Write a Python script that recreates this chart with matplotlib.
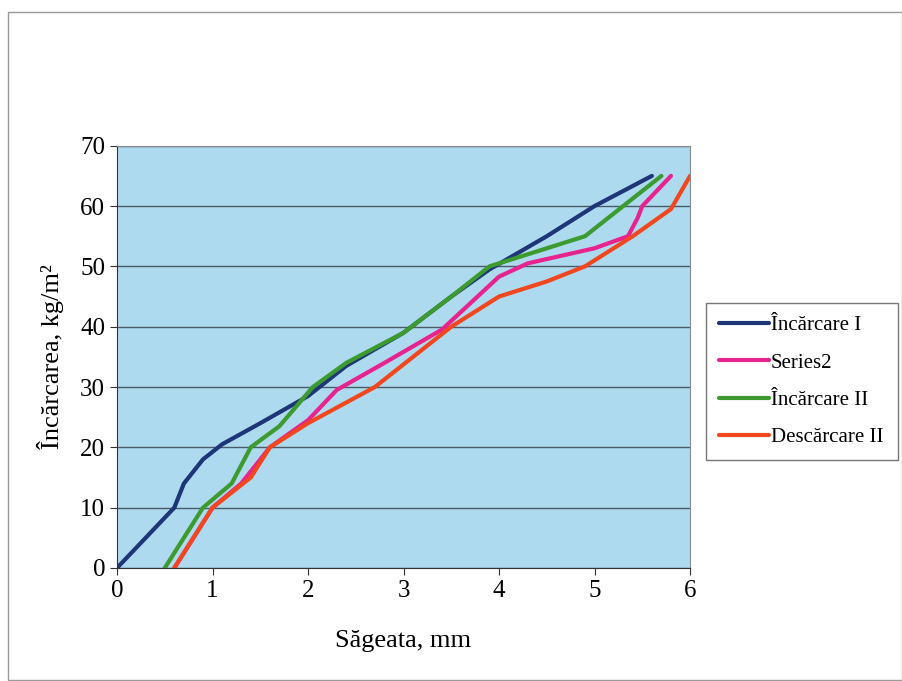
#!/usr/bin/env python3
import matplotlib

matplotlib.use("Agg")
import matplotlib.pyplot as plt
from matplotlib.patches import Rectangle

# Încărcare I
x_inc1 = [0.0, 0.6, 0.7, 0.9, 1.1, 1.5, 2.0, 2.4, 3.0, 3.5, 3.9, 4.5, 5.0, 5.6]
y_inc1 = [0, 10, 14, 18, 20.5, 24, 28.5, 33.5, 39, 45, 49.5, 55, 60, 65]

# Series2
x_ser2 = [0.6, 0.8, 1.0, 1.3, 1.6, 2.0, 2.3, 2.8, 3.4, 4.0, 4.3, 5.0, 5.35, 5.45, 5.5, 5.8]
y_ser2 = [0, 5, 10, 14, 20, 24.5, 29.5, 34, 39.5, 48.3, 50.5, 53, 55, 58, 60, 65]

# Încărcare II
x_inc2 = [0.5, 0.7, 0.9, 1.2, 1.4, 1.7, 2.05, 2.4, 3.0, 3.5, 3.9, 4.5, 4.9, 5.3, 5.7]
y_inc2 = [0, 5, 10, 14, 20, 23.5, 30, 34, 39, 45, 50, 53, 55, 60, 65]

# Descărcare II
x_desc2 = [0.6, 1.0, 1.4, 1.6, 2.0, 2.7, 3.1, 3.5, 4.0, 4.5, 4.9, 5.4, 5.8, 6.0]
y_desc2 = [0, 10, 15, 20, 24, 30, 35, 40, 45, 47.5, 50, 55, 59.5, 65]

series = [
    ("Încărcare I", x_inc1, y_inc1, "#1E3577"),
    ("Series2", x_ser2, y_ser2, "#E8228E"),
    ("Încărcare II", x_inc2, y_inc2, "#3C9A2F"),
    ("Descărcare II", x_desc2, y_desc2, "#F2461F"),
]

plt.rcParams["font.family"] = ["Liberation Serif", "DejaVu Serif"]

fig = plt.figure(figsize=(9.03, 6.81), dpi=100)
fig.patches.append(Rectangle((0.009, 0.002), 0.99, 0.98, transform=fig.transFigure,
                             fill=False, edgecolor="#9A9A9A", linewidth=1.0))

ax = fig.add_axes([0.1296, 0.166, 0.6346, 0.620])
ax.set_facecolor("#AEDAEF")

for label, xs, ys, color in series:
    ax.plot(xs, ys, color=color, linewidth=3.0, label=label, solid_capstyle="round")

ax.set_xlim(0, 6)
ax.set_ylim(0, 70)
ax.set_xticks(range(0, 7))
ax.set_yticks(range(0, 71, 10))
ax.yaxis.grid(True, color="#4A5A66", linewidth=1.0)
ax.set_axisbelow(True)
ax.tick_params(direction="out", labelsize=18, length=5, color="#333333")
for side in ("top", "right"):
    ax.spines[side].set_color("#8A8A8A")
for side in ("left", "bottom"):
    ax.spines[side].set_color("#333333")
ax.set_xlabel("Săgeata, mm", fontsize=19, labelpad=20)
ax.set_ylabel("Încărcarea, kg/m²", fontsize=19, labelpad=12)

fig.legend(loc="lower left", bbox_to_anchor=(0.782, 0.325, 0.213, 0.247),
           mode="expand", fontsize=15, frameon=True, fancybox=False,
           edgecolor="#555555", handlelength=2.4, handletextpad=0.1,
           labelspacing=0.85, borderaxespad=0.0, borderpad=0.6)

fig.savefig("out.png", dpi=100, facecolor="white")
